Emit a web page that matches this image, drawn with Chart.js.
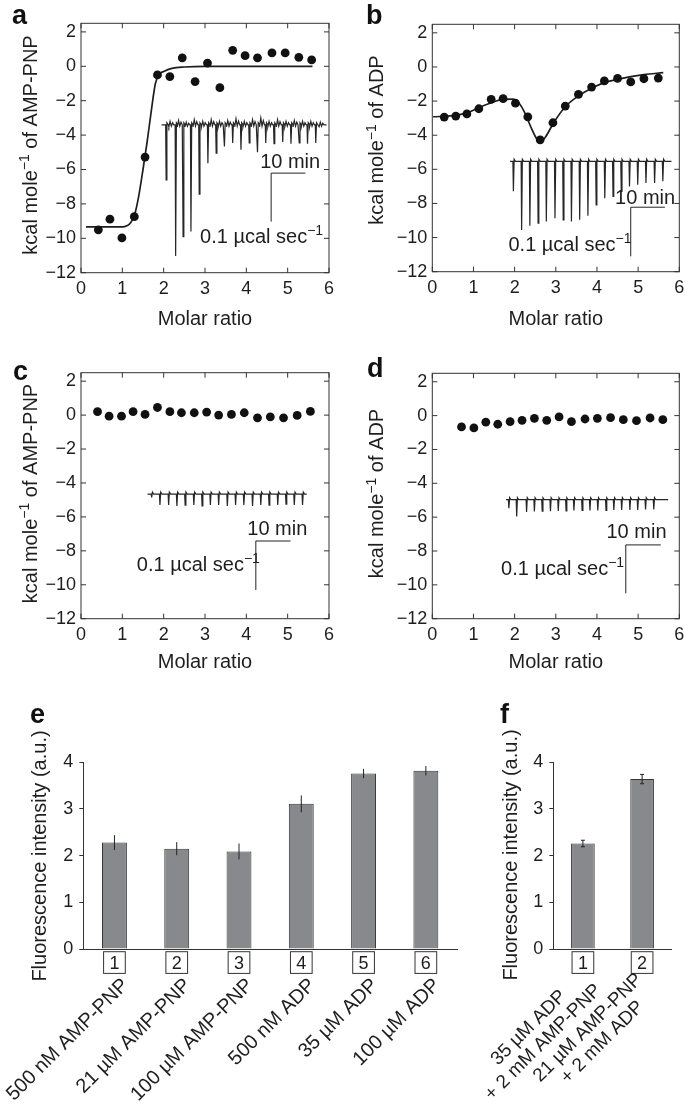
<!DOCTYPE html>
<html lang="en">
<head>
<meta charset="UTF-8">
<title>ITC and fluorescence panels</title>
<script src="https://cdn.jsdelivr.net/npm/chart.js"></script>
<style>
  body { margin: 0; background: #fff; }
  #fig { position: relative; width: 685px; height: 1114px; overflow: hidden; background: #fff; }
  #fig canvas { position: absolute; }
</style>
</head>
<body>
<div id="fig">
  <canvas id="chartA" width="340" height="345" style="left:0;top:0;width:340px;height:345px"></canvas>
  <canvas id="chartB" width="345" height="345" style="left:340px;top:0;width:345px;height:345px"></canvas>
  <canvas id="chartC" width="340" height="345" style="left:0;top:330px;width:340px;height:345px"></canvas>
  <canvas id="chartD" width="345" height="345" style="left:340px;top:330px;width:345px;height:345px"></canvas>
  <canvas id="chartE" width="470" height="424" style="left:0;top:690px;width:470px;height:424px"></canvas>
  <canvas id="chartF" width="215" height="424" style="left:470px;top:690px;width:215px;height:424px"></canvas>
</div>

<script>
// ---- data ----
const xTicks = [0, 1, 2, 3, 4, 5, 6];
const yTicks = [-12, -10, -8, -6, -4, -2, 0, 2];

// a: AMP-PNP titration
const aPtsX = [0.42, 0.70, 0.99, 1.29, 1.55, 1.85, 2.15, 2.45, 2.76, 3.06, 3.36, 3.67, 3.97, 4.27, 4.62, 4.94, 5.27, 5.58];
const aPtsY = [-9.51, -8.89, -9.98, -8.74, -5.28, -0.50, -0.60, 0.49, -0.89, 0.19, -1.24, 0.93, 0.62, 0.49, 0.78, 0.78, 0.52, 0.37];
const aFitX = [0.12, 1.0, 1.2, 1.3, 1.4, 1.5, 1.6, 1.7, 1.8, 1.9, 2.0, 2.2, 2.5, 3.0, 5.6];
const aFitY = [-9.34, -9.34, -9.1, -8.6, -7.5, -6.0, -4.4, -2.6, -1.0, -0.45, -0.3, -0.12, -0.04, 0, 0];
const aSpikeX = [2.06, 2.29, 2.47, 2.66, 2.86, 3.07, 3.27, 3.47, 3.67, 3.87, 4.07, 4.27, 4.47, 4.67, 4.88, 5.08, 5.28, 5.48, 5.68];
const aSpikeY = [-6.6, -11.03, -9.9, -9.6, -7.43, -5.63, -5.05, -4.66, -4.46, -4.85, -4.46, -5.0, -4.46, -4.5, -4.4, -4.5, -4.46, -4.5, -4.46];
const aBumps = [0.2, 0.25, 0.15, 0.3, 0.2, 0.3, 0.2, 0.25, 0.35, 0.2, 0.3, 0.4, 0.2, 0.3, 0.2, 0.25, 0.2, 0.2, 0.15];

// b: ADP titration
const bPtsX = [0.29, 0.57, 0.84, 1.13, 1.43, 1.72, 2.02, 2.32, 2.62, 2.93, 3.23, 3.55, 3.87, 4.18, 4.50, 4.82, 5.14, 5.49];
const bPtsY = [-2.94, -2.88, -2.75, -2.45, -1.90, -1.86, -2.12, -2.92, -4.27, -3.27, -2.29, -1.61, -1.18, -0.82, -0.67, -0.88, -0.69, -0.65];
const bFitX = [0.02, 0.5, 0.84, 1.13, 1.43, 1.72, 1.95, 2.1, 2.25, 2.4, 2.52, 2.62, 2.75, 2.94, 3.23, 3.55, 3.87, 4.18, 4.5, 4.82, 5.14, 5.61];
const bFitY = [-2.92, -2.85, -2.69, -2.39, -2.1, -1.9, -1.88, -2.1, -2.7, -3.55, -4.15, -4.35, -4.1, -3.3, -2.33, -1.7, -1.25, -0.92, -0.73, -0.57, -0.45, -0.33];
const bSpikeX = [1.97, 2.17, 2.37, 2.57, 2.77, 2.98, 3.18, 3.38, 3.58, 3.78, 3.98, 4.19, 4.39, 4.59, 4.79, 4.99, 5.19, 5.40, 5.60];
const bSpikeY = [-7.29, -9.55, -9.31, -9.16, -9.06, -8.86, -8.96, -9.06, -8.96, -8.72, -8.08, -7.69, -7.59, -7.29, -7.0, -6.9, -6.8, -6.8, -6.7];

// c: AMP-PNP control
const cPtsX = [0.40, 0.68, 0.98, 1.26, 1.55, 1.85, 2.15, 2.43, 2.74, 3.04, 3.33, 3.64, 3.95, 4.27, 4.58, 4.90, 5.23, 5.55];
const cPtsY = [0.20, -0.06, -0.06, 0.20, 0.04, 0.45, 0.20, 0.14, 0.14, 0.18, 0.0, 0.04, 0.14, -0.16, -0.10, -0.16, -0.02, 0.22];
const cSpikeX = [1.71, 1.91, 2.12, 2.32, 2.52, 2.73, 2.93, 3.13, 3.33, 3.54, 3.74, 3.94, 4.15, 4.35, 4.55, 4.76, 4.96, 5.16, 5.36];
const cSpikeY = [-4.85, -5.3, -5.3, -5.35, -5.3, -5.3, -5.35, -5.3, -5.3, -5.35, -5.3, -5.3, -5.35, -5.3, -5.3, -5.3, -5.25, -5.3, -5.3];

// d: ADP control
const dPtsX = [0.71, 1.01, 1.30, 1.59, 1.89, 2.18, 2.48, 2.78, 3.08, 3.38, 3.71, 4.01, 4.33, 4.64, 4.96, 5.29, 5.60];
const dPtsY = [-0.67, -0.73, -0.39, -0.51, -0.36, -0.28, -0.16, -0.28, -0.08, -0.36, -0.20, -0.16, -0.12, -0.24, -0.30, -0.14, -0.24];
const dSpikeX = [1.86, 2.05, 2.29, 2.48, 2.67, 2.87, 3.06, 3.25, 3.44, 3.64, 3.83, 4.02, 4.22, 4.41, 4.60, 4.80, 4.99, 5.18, 5.38];
const dSpikeY = [-5.47, -5.96, -5.7, -5.67, -5.65, -5.65, -5.63, -5.63, -5.6, -5.6, -5.6, -5.6, -5.6, -5.58, -5.58, -5.58, -5.58, -5.55, -5.55];

// e, f: fluorescence
const barYTicks = [0, 0.5, 1, 1.5, 2, 2.5, 3, 3.5, 4];
const eLabels = ['500 nM AMP-PNP', '21 \u00b5M AMP-PNP', '100 \u00b5M AMP-PNP', '500 nM ADP', '35 \u00b5M ADP', '100 \u00b5M ADP'];
const eValues = [2.28, 2.15, 2.09, 3.11, 3.76, 3.82];
const eErrors = [0.16, 0.14, 0.17, 0.18, 0.10, 0.10];
const fLabels = [['35 \u00b5M ADP', '+ 2 mM AMP-PNP'], ['21 \u00b5M AMP-PNP', '+ 2 mM ADP']];
const fValues = [2.26, 3.64];
const fErrors = [0.07, 0.10];

// ---- drawing ----
const FONT = '"Liberation Sans", Arial, Helvetica, sans-serif';
const INK = '#1e1e1e';
const TICK_SIZE = 18;
const TEXT_SIZE = 20;
const MINUS = '\u2212';

function richText(ctx, parts, x, y, size, align) {
  const supSize = size * 0.7;
  let total = 0;
  const widths = parts.map(p => {
    ctx.font = (p[1] ? supSize : size) + 'px ' + FONT;
    const w = ctx.measureText(p[0]).width;
    total += w;
    return w;
  });
  let cx = align === 'center' ? x - total / 2 : (align === 'right' ? x - total : x);
  ctx.textAlign = 'left';
  ctx.textBaseline = 'alphabetic';
  parts.forEach((p, i) => {
    ctx.font = (p[1] ? supSize : size) + 'px ' + FONT;
    ctx.fillText(p[0], cx, p[1] ? y - size * 0.38 : y);
    cx += widths[i];
  });
}

function panelLetter(ctx, letter, x, y) {
  ctx.save();
  ctx.fillStyle = '#111';
  ctx.font = 'bold 27px ' + FONT;
  ctx.textAlign = 'left';
  ctx.textBaseline = 'alphabetic';
  ctx.fillText(letter, x, y);
  ctx.restore();
}

// raw ITC trace: flat baseline with one downward injection spike per entry
function spikeTrace(start, end, base, sx, sy, bumps) {
  const pts = [{ x: start, y: base }];
  sx.forEach((s, i) => {
    pts.push({ x: s - 0.012, y: base });
    pts.push({ x: s, y: sy[i] });
    pts.push({ x: s + 0.018, y: base + 0.12 });
    pts.push({ x: s + 0.05, y: base });
    if (bumps) {
      const next = i + 1 < sx.length ? sx[i + 1] : end;
      const mid = (s + next) / 2;
      pts.push({ x: mid - 0.05, y: base - 0.12 });
      pts.push({ x: mid - 0.02, y: base + bumps[i] });
      pts.push({ x: mid + 0.01, y: base - 0.08 });
      pts.push({ x: mid + 0.04, y: base + bumps[i] * 0.6 });
      pts.push({ x: mid + 0.07, y: base });
    }
  });
  pts.push({ x: end, y: base });
  return pts;
}

const zip = (xs, ys) => xs.map((x, i) => ({ x: x, y: ys[i] }));

const panelCfg = {};

const itcPlugin = {
  id: 'itcFrame',
  afterDraw(chart) {
    const cfg = panelCfg[chart.canvas.id];
    const ctx = chart.ctx;
    const a = chart.chartArea;
    const xs = chart.scales.x, ys = chart.scales.y;
    ctx.save();
    ctx.strokeStyle = '#333';
    ctx.lineWidth = 1;
    ctx.strokeRect(a.left, a.top, a.right - a.left, a.bottom - a.top);
    ctx.beginPath();
    const tl = 5;
    xTicks.forEach(v => {
      const px = xs.getPixelForValue(v);
      ctx.moveTo(px, a.bottom); ctx.lineTo(px, a.bottom - tl);
      ctx.moveTo(px, a.top); ctx.lineTo(px, a.top + tl);
    });
    yTicks.forEach(v => {
      const py = ys.getPixelForValue(v);
      ctx.moveTo(a.left, py); ctx.lineTo(a.left + tl, py);
      ctx.moveTo(a.right, py); ctx.lineTo(a.right - tl, py);
    });
    ctx.stroke();

    // calibration bar of the raw trace
    const sb = cfg.bar;
    const hx0 = xs.getPixelForValue(sb.x0), hx1 = xs.getPixelForValue(sb.x1);
    const hy = ys.getPixelForValue(sb.y0), vy = ys.getPixelForValue(sb.y1);
    ctx.strokeStyle = '#222';
    ctx.beginPath();
    ctx.moveTo(hx1, hy); ctx.lineTo(hx0, hy); ctx.lineTo(hx0, vy);
    ctx.stroke();

    ctx.fillStyle = INK;
    ctx.font = TEXT_SIZE + 'px ' + FONT;
    ctx.textAlign = 'center';
    ctx.textBaseline = 'alphabetic';
    ctx.fillText('10 min', xs.getPixelForValue(sb.minX), ys.getPixelForValue(sb.minY));
    richText(ctx, [['0.1 \u00b5cal sec', false], [MINUS + '1', true]],
      xs.getPixelForValue(sb.calX), ys.getPixelForValue(sb.calY), TEXT_SIZE, 'left');

    // axis titles
    richText(ctx, [['Molar ratio', false]], (a.left + a.right) / 2, cfg.xTitleY, TEXT_SIZE, 'center');
    ctx.save();
    ctx.translate(cfg.yTitleX, cfg.yTitleY);
    ctx.rotate(-Math.PI / 2);
    richText(ctx, [['kcal mole', false], [MINUS + '1', true], [' of ' + cfg.ligand, false]], 0, 0, TEXT_SIZE, 'center');
    ctx.restore();
    ctx.restore();
    panelLetter(ctx, cfg.letter, cfg.letterX, cfg.letterY);
  }
};

function itcChart(id, pts, fit, trace, cfg) {
  panelCfg[id] = cfg;
  const datasets = [
    { data: trace, showLine: true, pointRadius: 0, borderColor: '#262626', borderWidth: 1.2, tension: 0 },
    { data: pts, showLine: false, pointRadius: 4.4, pointBackgroundColor: '#111', pointBorderWidth: 0 }
  ];
  if (fit) {
    datasets.push({ data: fit, showLine: true, pointRadius: 0, borderColor: '#1e1e1e', borderWidth: 1.7,
      cubicInterpolationMode: 'monotone' });
  }
  return new Chart(document.getElementById(id), {
    type: 'scatter',
    data: { datasets: datasets },
    options: {
      responsive: false,
      animation: false,
      layout: { padding: { top: cfg.top, right: cfg.right, left: 0, bottom: 0 } },
      plugins: { legend: { display: false }, tooltip: { enabled: false } },
      scales: {
        x: {
          type: 'linear', min: 0, max: 6,
          afterBuildTicks: s => { s.ticks = xTicks.map(v => ({ value: v })); },
          afterFit: s => { s.height = cfg.xh; s.paddingLeft = 0; s.paddingRight = 0; },
          grid: { display: false, drawTicks: false },
          border: { display: false },
          ticks: { font: { family: FONT, size: TICK_SIZE }, color: INK, padding: 6, maxRotation: 0 }
        },
        y: {
          type: 'linear', min: -12, max: 2.5,
          afterBuildTicks: s => { s.ticks = yTicks.map(v => ({ value: v })); },
          afterFit: s => { s.width = cfg.yw; s.paddingTop = 0; s.paddingBottom = 0; },
          grid: { display: false, drawTicks: false },
          border: { display: false },
          ticks: { font: { family: FONT, size: TICK_SIZE }, color: INK, padding: 5,
            callback: v => String(v).replace('-', MINUS) }
        }
      }
    },
    plugins: [itcPlugin]
  });
}

itcChart('chartA', zip(aPtsX, aPtsY), zip(aFitX, aFitY), spikeTrace(1.95, 5.94, -3.4, aSpikeX, aSpikeY, aBumps), {
  top: 23.3, right: 11, yw: 81, xh: 72.3, ligand: 'AMP-PNP', letter: 'a', letterX: 12, letterY: 24,
  xTitleY: 325, yTitleX: 36.7, yTitleY: 145,
  bar: { x0: 4.6, x1: 5.43, y0: -6.21, y1: -9.03, minX: 5.06, minY: -5.9, calX: 2.88, calY: -10.25 }
});
itcChart('chartB', zip(bPtsX, bPtsY), zip(bFitX, bFitY), spikeTrace(1.89, 5.81, -5.53, bSpikeX, bSpikeY), {
  top: 24.3, right: 5.7, yw: 92.3, xh: 73.3, ligand: 'ADP', letter: 'b', letterX: 26, letterY: 24,
  xTitleY: 325, yTitleX: 43.3, yTitleY: 140,
  bar: { x0: 4.82, x1: 5.65, y0: -8.22, y1: -11.1, minX: 5.17, minY: -8.02, calX: 1.85, calY: -10.76 }
});
itcChart('chartC', zip(cPtsX, cPtsY), null, spikeTrace(1.61, 5.46, -4.66, cSpikeX, cSpikeY), {
  top: 42.7, right: 11, yw: 81, xh: 56.3, ligand: 'AMP-PNP', letter: 'c', letterX: 13, letterY: 50,
  xTitleY: 338, yTitleX: 36.7, yTitleY: 163.5,
  bar: { x0: 4.23, x1: 5.07, y0: -7.42, y1: -10.31, minX: 4.75, minY: -7.07, calX: 1.35, calY: -9.17 }
});
itcChart('chartD', zip(dPtsX, dPtsY), null, spikeTrace(1.79, 5.73, -4.97, dSpikeX, dSpikeY), {
  top: 43.3, right: 5.7, yw: 92.3, xh: 56.3, ligand: 'ADP', letter: 'd', letterX: 27, letterY: 47,
  xTitleY: 338, yTitleX: 43.3, yTitleY: 163.5,
  bar: { x0: 4.70, x1: 5.55, y0: -7.64, y1: -10.5, minX: 4.96, minY: -7.24, calX: 1.67, calY: -9.41 }
});

// ---- bar panels ----
const barCfg = {};

const barPlugin = {
  id: 'barExtras',
  afterDraw(chart) {
    const cfg = barCfg[chart.canvas.id];
    const ctx = chart.ctx;
    const a = chart.chartArea;
    const xs = chart.scales.x, ys = chart.scales.y;
    const meta = chart.getDatasetMeta(0);
    ctx.save();
    ctx.strokeStyle = '#222';
    ctx.lineWidth = 1;
    ctx.beginPath();
    cfg.values.forEach((v, i) => {
      const px = meta.data[i].x;
      const top = ys.getPixelForValue(v + cfg.errors[i]);
      const bot = ys.getPixelForValue(v - cfg.errors[i]);
      ctx.moveTo(px, top); ctx.lineTo(px, bot);
      if (cfg.cap) {
        ctx.moveTo(px - cfg.cap, top); ctx.lineTo(px + cfg.cap, top);
        ctx.moveTo(px - cfg.cap, bot); ctx.lineTo(px + cfg.cap, bot);
      }
    });
    ctx.stroke();

    const box = 21.7;
    cfg.labels.forEach((lab, i) => {
      const cx = xs.getPixelForValue(i);
      const by = a.bottom + 2.7;
      ctx.fillStyle = '#fff';
      ctx.fillRect(cx - box / 2, by, box, box);
      ctx.strokeStyle = '#333';
      ctx.strokeRect(cx - box / 2, by, box, box);
      ctx.fillStyle = INK;
      ctx.font = TICK_SIZE + 'px ' + FONT;
      ctx.textAlign = 'center';
      ctx.textBaseline = 'middle';
      ctx.fillText(String(i + 1), cx, by + box / 2 + 1);

      ctx.save();
      ctx.font = cfg.labelSize + 'px ' + FONT;
      ctx.textBaseline = 'alphabetic';
      ctx.translate(cx + cfg.labelDx, a.bottom + cfg.labelDy);
      ctx.rotate(-Math.PI / 4);
      if (Array.isArray(lab)) {
        // two stacked lines, centred on each other
        ctx.textAlign = 'center';
        lab.forEach((t, k) => ctx.fillText(t, 0, (k - (lab.length - 1)) * cfg.lineH));
      } else {
        ctx.textAlign = 'right';
        ctx.fillText(lab, 0, 0);
      }
      ctx.restore();
    });

    ctx.fillStyle = INK;
    ctx.save();
    ctx.translate(cfg.yTitleX, cfg.yTitleY);
    ctx.rotate(-Math.PI / 2);
    richText(ctx, [['Fluorescence intensity (a.u.)', false]], 0, 0, TEXT_SIZE, 'center');
    ctx.restore();
    ctx.restore();
    panelLetter(ctx, cfg.letter, cfg.letterX, cfg.letterY);
  }
};

function barChart(id, labels, values, errors, cfg) {
  cfg.labels = labels; cfg.values = values; cfg.errors = errors;
  barCfg[id] = cfg;
  return new Chart(document.getElementById(id), {
    type: 'bar',
    data: {
      labels: labels.map((l, i) => String(i + 1)),
      datasets: [{ data: values, backgroundColor: '#88898c', borderColor: '#363636', borderWidth: 1,
        barPercentage: 1, categoryPercentage: 0.4 }]
    },
    options: {
      responsive: false,
      animation: false,
      layout: { padding: { top: cfg.top, right: cfg.right, left: 0, bottom: 0 } },
      plugins: { legend: { display: false }, tooltip: { enabled: false } },
      scales: {
        x: {
          grid: { display: false, drawTicks: false },
          border: { display: true, color: '#333', width: 1 },
          ticks: { display: false },
          afterFit: s => { s.height = cfg.xh; s.paddingLeft = 0; s.paddingRight = 0; }
        },
        y: {
          min: 0, max: 4,
          afterBuildTicks: s => { s.ticks = barYTicks.map(v => ({ value: v })); },
          afterFit: s => { s.width = cfg.yw; s.paddingTop = 0; s.paddingBottom = 0; },
          grid: { drawOnChartArea: false, drawTicks: true, tickLength: 4, color: '#333' },
          border: { display: true, color: '#333', width: 1 },
          ticks: { font: { family: FONT, size: TICK_SIZE }, color: INK, padding: 6,
            callback: v => Number.isInteger(v) ? String(v) : '' }
        }
      }
    },
    plugins: [barPlugin]
  });
}

barChart('chartE', eLabels, eValues, eErrors, {
  top: 72.3, right: 13, yw: 83.3, xh: 165, cap: 0, labelDx: 15, labelDy: 37, lineH: 24, labelSize: 20,
  yTitleX: 46, yTitleY: 166, letter: 'e', letterX: 30, letterY: 33
});
barChart('chartF', fLabels, fValues, fErrors, {
  top: 72.3, right: 13.3, yw: 83.3, xh: 165, cap: 2, labelDx: -36, labelDy: 97, lineH: 20.5, labelSize: 19,
  yTitleX: 46.7, yTitleY: 165, letter: 'f', letterX: 30, letterY: 33
});
</script>
</body>
</html>
